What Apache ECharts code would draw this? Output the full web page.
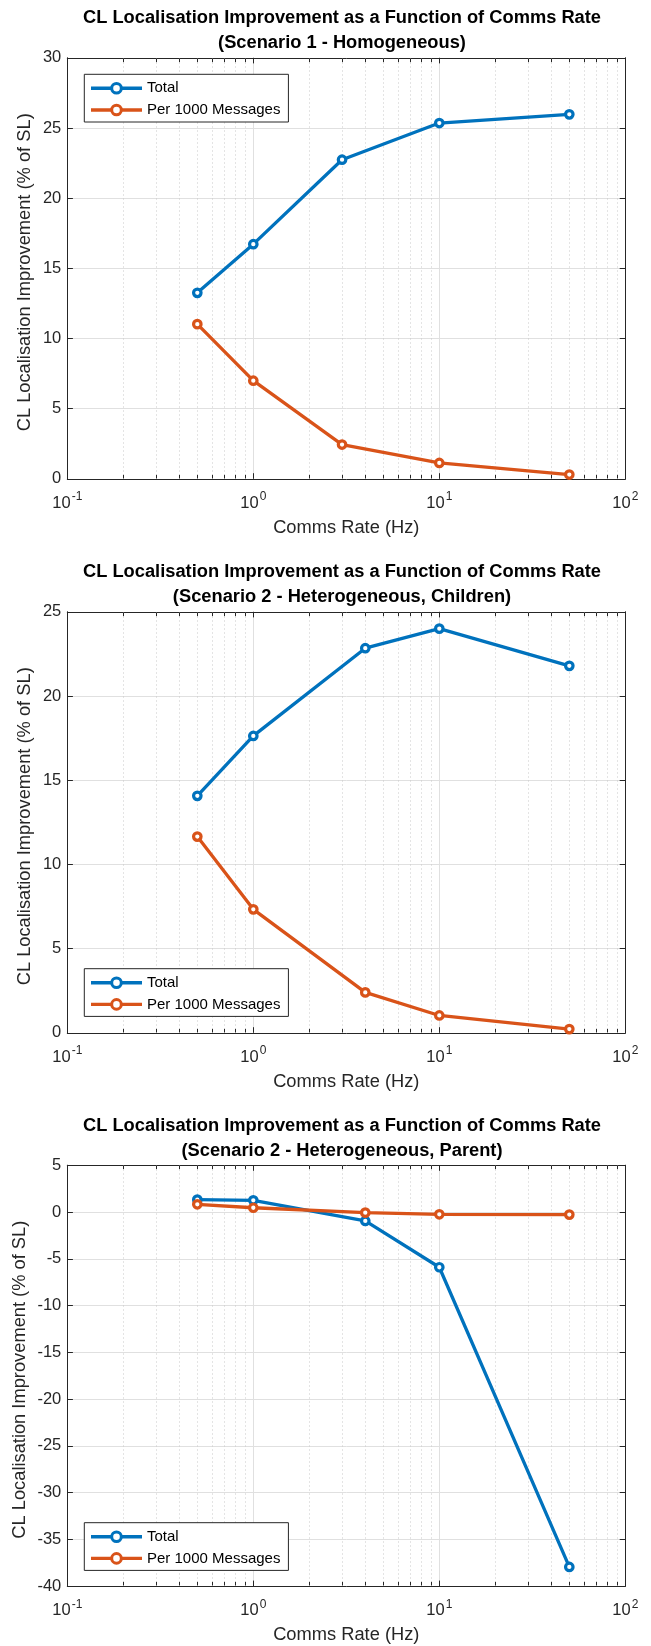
<!DOCTYPE html>
<html>
<head>
<meta charset="utf-8">
<script src="https://cdn.jsdelivr.net/npm/echarts@6/dist/echarts.min.js"></script>
<style>
  html, body { margin: 0; padding: 0; background: #fff; }
  #chart { width: 651px; height: 1646px; }
</style>
</head>
<body>
<div id="chart"></div>
<script>
// Comms rates (Hz) for each scenario
const ratesS1 = [0.5, 1, 3, 10, 50];
const ratesS2 = [0.5, 1, 4, 10, 50];

// CL localisation improvement (% of SL)
const s1Total = [13.25, 16.72, 22.74, 25.35, 25.97];
const s1Per1000 = [11.02, 6.99, 2.44, 1.13, 0.3];

const s2ChildTotal = [14.07, 17.63, 22.84, 24.0, 21.79];
const s2ChildPer1000 = [11.65, 7.33, 2.4, 1.03, 0.22];

const s2ParentTotal = [1.32, 1.25, -0.96, -5.91, -37.94];
const s2ParentPer1000 = [0.82, 0.45, -0.07, -0.25, -0.28];

// Panel titles and axis ranges
const titles = [
  'CL Localisation Improvement as a Function of Comms Rate\n(Scenario 1 - Homogeneous)',
  'CL Localisation Improvement as a Function of Comms Rate\n(Scenario 2 - Heterogeneous, Children)',
  'CL Localisation Improvement as a Function of Comms Rate\n(Scenario 2 - Heterogeneous, Parent)'
];
const yRanges = [[0, 30], [0, 25], [-40, 5]];
const yInterval = 5;
const xRange = [0.1, 100];

// Minor log-decade positions (2..9 within each decade)
const minorX = [0.2, 0.3, 0.4, 0.5, 0.6, 0.7, 0.8, 0.9,
                2, 3, 4, 5, 6, 7, 8, 9,
                20, 30, 40, 50, 60, 70, 80, 90];

const seriesNames = ['Total', 'Per 1000 Messages'];
const colors = ['#0072BD', '#D95319'];

const panels = [
  { x: ratesS1, total: s1Total, per: s1Per1000 },
  { x: ratesS2, total: s2ChildTotal, per: s2ChildPer1000 },
  { x: ratesS2, total: s2ParentTotal, per: s2ParentPer1000 }
];

const FONT = '"Liberation Sans", Arial, Helvetica, sans-serif';
const AXIS_COLOR = '#262626';
const GRID_COLOR = '#e0e0e0';

const gridTops = [57.8, 611.8, 1165.2];
const gridLeft = 67.3;
const gridWidth = 558;
const gridHeight = 421;
const yNameGaps = [33, 33, 38];
const legendTops = [74.3, 968.7, 1522.7];

const grids = [], xAxes = [], yAxes = [], series = [], legends = [], graphics = [];

function logLabel(v) {
  const e = Math.round(Math.log10(v));
  return '{b|10}{s|' + e + '}';
}

panels.forEach((p, g) => {
  const [yMin, yMax] = yRanges[g];
  grids.push({
    left: gridLeft, top: gridTops[g], width: gridWidth, height: gridHeight,
    containLabel: false, outerBoundsMode: 'none'
  });

  // bottom x axis (labelled, major grid)
  xAxes.push({
    type: 'log', logBase: 10, gridIndex: g, min: xRange[0], max: xRange[1], splitNumber: 3,
    position: 'bottom',
    name: 'Comms Rate (Hz)', nameLocation: 'middle', nameGap: 40, nameMoveOverlap: false,
    nameTextStyle: { fontFamily: FONT, fontSize: 18.3, color: AXIS_COLOR },
    axisLine: { show: true, onZero: false, lineStyle: { color: AXIS_COLOR, width: 1 } },
    axisTick: { show: true, inside: true, length: 5.6, lineStyle: { color: AXIS_COLOR } },
    axisLabel: {
      margin: 12, formatter: logLabel,
      rich: {
        b: { fontFamily: FONT, fontSize: 16.5, color: AXIS_COLOR, verticalAlign: 'bottom' },
        s: { fontFamily: FONT, fontSize: 12, color: AXIS_COLOR, verticalAlign: 'bottom', padding: [0, 0, 9, 1] }
      }
    },
    splitLine: { show: true, lineStyle: { color: GRID_COLOR, width: 1 } }
  });
  // top x axis (box edge with ticks)
  xAxes.push({
    type: 'log', logBase: 10, gridIndex: g, min: xRange[0], max: xRange[1], splitNumber: 3,
    position: 'top',
    axisLine: { show: true, onZero: false, lineStyle: { color: AXIS_COLOR, width: 1 } },
    axisTick: { show: true, inside: true, length: 5.6, lineStyle: { color: AXIS_COLOR } },
    axisLabel: { show: false },
    splitLine: { show: false }
  });
  // left y axis
  yAxes.push({
    type: 'value', gridIndex: g, min: yMin, max: yMax, interval: yInterval, position: 'left',
    name: 'CL Localisation Improvement (% of SL)', nameLocation: 'middle',
    nameGap: yNameGaps[g], nameMoveOverlap: false,
    nameTextStyle: { fontFamily: FONT, fontSize: 18.3, color: AXIS_COLOR, padding: [0, 8, 0, 0] },
    axisLine: { show: true, onZero: false, lineStyle: { color: AXIS_COLOR, width: 1 } },
    axisTick: { show: true, inside: true, length: 5.6, lineStyle: { color: AXIS_COLOR } },
    axisLabel: { margin: 6, fontFamily: FONT, fontSize: 16.5, color: AXIS_COLOR },
    splitLine: { show: true, lineStyle: { color: GRID_COLOR, width: 1 } }
  });
  // right y axis
  yAxes.push({
    type: 'value', gridIndex: g, min: yMin, max: yMax, interval: yInterval, position: 'right',
    axisLine: { show: true, onZero: false, lineStyle: { color: AXIS_COLOR, width: 1 } },
    axisTick: { show: true, inside: true, length: 5.6, lineStyle: { color: AXIS_COLOR } },
    axisLabel: { show: false },
    splitLine: { show: false }
  });

  // minor dotted grid lines and minor ticks on the log axis
  series.push({
    type: 'custom', xAxisIndex: 2 * g, yAxisIndex: 2 * g, silent: true, z: 1,
    data: minorX.map(v => [v, yMin]),
    renderItem(params, api) {
      const cs = params.coordSys;
      const x = Math.round(api.coord([api.value(0), api.value(1)])[0]) + 0.5;
      const top = Math.round(cs.y) + 0.5, bot = Math.round(cs.y + cs.height) - 0.5;
      return {
        type: 'group',
        children: [
          { type: 'line', shape: { x1: x, y1: top, x2: x, y2: bot },
            style: { stroke: '#c8c8c8', lineWidth: 1, lineDash: [1, 3] } },
          { type: 'line', shape: { x1: x, y1: bot, x2: x, y2: bot - 3.6 },
            style: { stroke: AXIS_COLOR, lineWidth: 1 } },
          { type: 'line', shape: { x1: x, y1: top, x2: x, y2: top + 3.6 },
            style: { stroke: AXIS_COLOR, lineWidth: 1 } }
        ]
      };
    }
  });

  [p.total, p.per].forEach((vals, k) => {
    series.push({
      name: seriesNames[k], type: 'line', xAxisIndex: 2 * g, yAxisIndex: 2 * g, z: 3,
      data: p.x.map((x, i) => [x, vals[i]]),
      color: colors[k],
      symbol: 'circle', symbolSize: 7.5,
      lineStyle: { color: colors[k], width: 3.3 },
      itemStyle: { color: '#ffffff', borderColor: colors[k], borderWidth: 3.2 },
      emphasis: { disabled: true },
      animation: false
    });
  });

  legends.push({
    data: seriesNames, orient: 'vertical', left: 84.3, top: legendTops[g],
    itemWidth: 51, itemHeight: 12, itemGap: 6.7,
    padding: [6.5, 8, 4.5, 5],
    backgroundColor: '#fff', borderColor: AXIS_COLOR, borderWidth: 1, borderRadius: 0,
    selectedMode: false, z: 10,
    lineStyle: { width: 3.4 },
    itemStyle: { borderWidth: 3 },
    textStyle: { fontFamily: FONT, fontSize: 15, color: '#000' }
  });

  graphics.push({
    type: 'text', x: 342, y: gridTops[g] - 52, z: 10,
    style: {
      text: titles[g], fontFamily: FONT, fontSize: 18.3, fontWeight: 'bold',
      fill: '#000', align: 'center', verticalAlign: 'top', lineHeight: 25
    }
  });
});

const chart = echarts.init(document.getElementById('chart'), null, { renderer: 'canvas' });
chart.setOption({
  backgroundColor: '#fff',
  animation: false,
  grid: grids,
  xAxis: xAxes,
  yAxis: yAxes,
  series: series,
  legend: legends,
  graphic: graphics
});
</script>
</body>
</html>
